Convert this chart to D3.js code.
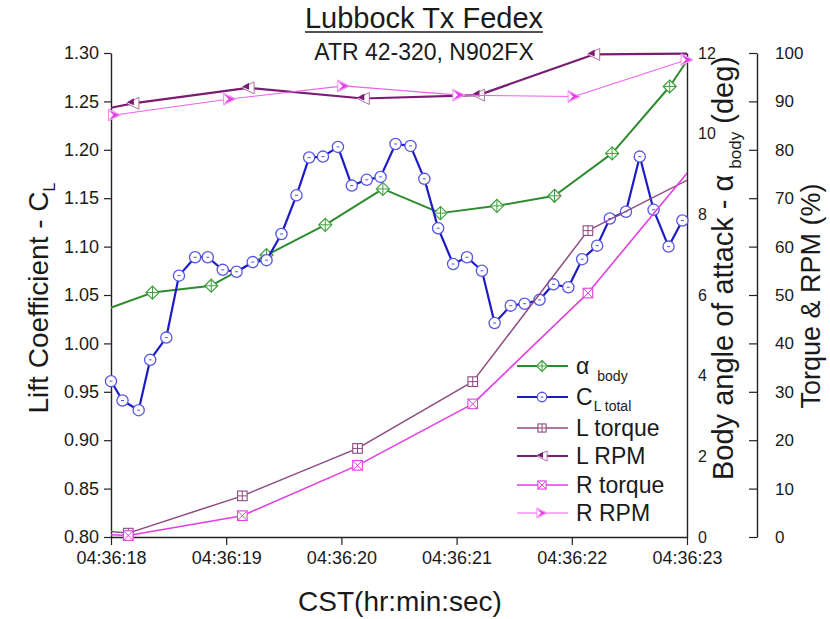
<!DOCTYPE html>
<html><head><meta charset="utf-8">
<script src="https://cdn.jsdelivr.net/npm/d3@7"></script>
<style>
body{margin:0;background:#fff}
svg{display:block}
text{font-family:"Liberation Sans",Arial,sans-serif;fill:#1a1a1a}
</style>
</head><body>
<svg id="chart" width="830" height="619"></svg>
<script>
// ---------------- data ----------------
const xTickValues = [0, 1, 2, 3, 4, 5];
const xTickLabels = ["04:36:18", "04:36:19", "04:36:20", "04:36:21", "04:36:22", "04:36:23"];
const clTicks = [0.80, 0.85, 0.90, 0.95, 1.00, 1.05, 1.10, 1.15, 1.20, 1.25, 1.30];
const alphaTicks = [0, 2, 4, 6, 8, 10, 12];
const pctTicks = [0, 10, 20, 30, 40, 50, 60, 70, 80, 90, 100];

// seconds after 04:36:18
const alphaTime = [-0.14, 0.36, 0.87, 1.35, 1.86, 2.36, 2.86, 3.35, 3.85, 4.35, 4.85, 5.35];
const alphaBody = [5.54, 6.06, 6.23, 6.99, 7.74, 8.63, 8.03, 8.21, 8.46, 9.51, 11.17, 13.3];

const clTime = [0.00, 0.10, 0.24, 0.34, 0.48, 0.59, 0.73, 0.84, 0.97, 1.09, 1.23, 1.35, 1.48, 1.61, 1.72, 1.84, 1.97, 2.09, 2.22, 2.34, 2.47,
                2.60, 2.72, 2.84, 2.97, 3.09, 3.22, 3.33, 3.47, 3.59, 3.72, 3.84, 3.97, 4.09, 4.22, 4.33, 4.47, 4.59, 4.71, 4.84, 4.96];
const clTotal = [0.961, 0.941, 0.931, 0.983, 1.006, 1.070, 1.089, 1.089, 1.076, 1.074, 1.084, 1.086, 1.113, 1.153, 1.192, 1.193, 1.203, 1.163, 1.169, 1.172, 1.206,
                 1.204, 1.170, 1.119, 1.082, 1.089, 1.075, 1.021, 1.039, 1.041, 1.045, 1.061, 1.058, 1.087, 1.101, 1.129, 1.136, 1.193, 1.138, 1.100, 1.127];

const lTorqueTime = [-0.86, 0.15, 1.14, 2.14, 3.14, 4.14, 5.14];
const lTorque = [3.0, 0.8, 8.5, 18.3, 32.1, 63.3, 75.4];

const lRpmTime = [-0.81, 0.19, 1.19, 2.19, 3.19, 4.19, 5.19];
const lRpm = [84.8, 89.6, 92.8, 90.6, 91.3, 99.7, 99.9];

const rTorqueTime = [-0.86, 0.15, 1.14, 2.14, 3.14, 4.14, 5.14];
const rTorque = [1.5, 0.3, 4.4, 14.8, 27.5, 50.4, 79.2];

const rRpmTime = [0.03, 1.03, 2.02, 3.02, 4.02, 5.00];
const rRpm = [87.2, 90.5, 93.2, 91.3, 91.0, 98.6];

// ---------------- layout ----------------
const svg = d3.select("#chart");
const P = {left: 111, right: 687, top: 53, bottom: 537};
const outerAxisX = 757;

const x = d3.scaleLinear().domain([0, 5]).range([P.left, P.right]);
const yCL = d3.scaleLinear().domain([0.80, 1.30]).range([P.bottom, P.top]);
const yA = d3.scaleLinear().domain([0, 12]).range([P.bottom, P.top]);
const yP = d3.scaleLinear().domain([0, 100]).range([P.bottom, P.top]);

svg.append("defs").append("clipPath").attr("id", "plotClip")
  .append("rect").attr("x", P.left).attr("y", P.top - 3)
  .attr("width", P.right - P.left).attr("height", P.bottom - P.top + 3);

const axisColor = "#222";
function styleAxis(g, fontSize) {
  g.selectAll(".domain").attr("stroke", axisColor).attr("stroke-width", 1.4);
  g.selectAll(".tick line").attr("stroke", axisColor).attr("stroke-width", 1.2);
  g.selectAll(".tick text").attr("font-size", fontSize).attr("fill", "#1a1a1a")
    .attr("font-family", '"Liberation Sans",Arial,sans-serif');
}

// ---- left CL axis ----
const gL = svg.append("g").attr("transform", `translate(${P.left},0)`);
gL.call(d3.axisLeft(yCL).ticks(50).tickSize(3).tickFormat(""));
gL.call(d3.axisLeft(yCL).tickValues(clTicks).tickFormat(d3.format(".2f")).tickSizeInner(7).tickSizeOuter(0).tickPadding(5));
styleAxis(gL, 18);

// ---- bottom time axis ----
const gB = svg.append("g").attr("transform", `translate(0,${P.bottom})`);
gB.call(d3.axisBottom(x).ticks(50).tickSize(4).tickFormat(""));
gB.call(d3.axisBottom(x).tickValues(xTickValues).tickFormat((d, i) => xTickLabels[i]).tickSizeInner(8).tickSizeOuter(0).tickPadding(6));
styleAxis(gB, 18);

// ---- inner right alpha axis (ticks point inward) ----
const gA = svg.append("g").attr("transform", `translate(${P.right},0)`);
gA.call(d3.axisRight(yA).ticks(12).tickSizeInner(-7).tickSizeOuter(0).tickFormat(""));
gA.call(d3.axisRight(yA).tickValues(alphaTicks).tickSize(0).tickPadding(11));
styleAxis(gA, 16);

// ---- outer right percent axis ----
const gP = svg.append("g").attr("transform", `translate(${outerAxisX},0)`);
gP.call(d3.axisRight(yP).ticks(100).tickSizeInner(-4).tickSizeOuter(0).tickFormat(""));
gP.call(d3.axisRight(yP).ticks(20).tickSizeInner(-6).tickSizeOuter(0).tickFormat(""));
gP.call(d3.axisRight(yP).tickValues(pctTicks).tickSizeInner(-8).tickSizeOuter(0).tickPadding(18));
styleAxis(gP, 17);

// ---------------- series ----------------
const series = [
  {key: "alpha", t: alphaTime, v: alphaBody, y: yA, line: "#2e8b2e", mark: "#3f9f3f", width: 2, marker: "diamondPlus"},
  {key: "cl", t: clTime, v: clTotal, y: yCL, line: "#1c1cc4", mark: "#5555e8", width: 2.2, marker: "circleDash"},
  {key: "ltq", t: lTorqueTime, v: lTorque, y: yP, line: "#8c4a82", mark: "#8c4a82", width: 1.5, marker: "squarePlus"},
  {key: "lrpm", t: lRpmTime, v: lRpm, y: yP, line: "#7a1d70", mark: "#7a1d70", width: 2.2, marker: "triLeft"},
  {key: "rtq", t: rTorqueTime, v: rTorque, y: yP, line: "#e23fe2", mark: "#e23fe2", width: 1.6, marker: "squareX"},
  {key: "rrpm", t: rRpmTime, v: rRpm, y: yP, line: "#f060f0", mark: "#e83ce8", width: 1.1, marker: "triRight"}
];

function drawMarker(g, type, cx, cy, color, s) {
  s = s || 1;
  if (type === "diamondPlus") {
    const r = 6.5 * s;
    g.append("path").attr("d", `M${cx},${cy - r}L${cx + r},${cy}L${cx},${cy + r}L${cx - r},${cy}Z`)
      .attr("fill", "#fff").attr("stroke", color).attr("stroke-width", 1.2);
    g.append("path").attr("d", `M${cx - r},${cy}H${cx + r}M${cx},${cy - r}V${cy + r}`)
      .attr("stroke", color).attr("stroke-width", 1);
  } else if (type === "circleDash") {
    const r = 5.6 * s;
    g.append("circle").attr("cx", cx).attr("cy", cy).attr("r", r)
      .attr("fill", "#fff").attr("stroke", color).attr("stroke-width", 1.3);
    g.append("path").attr("d", `M${cx - 1.5},${cy}H${cx + 1.5}`).attr("stroke", color).attr("stroke-width", 1);
  } else if (type === "squarePlus" || type === "squareX") {
    const h = 4.8 * s;
    g.append("rect").attr("x", cx - h).attr("y", cy - h).attr("width", 2 * h).attr("height", 2 * h)
      .attr("fill", "#fff").attr("stroke", color).attr("stroke-width", 1.1);
    const d = type === "squarePlus"
      ? `M${cx - h},${cy}H${cx + h}M${cx},${cy - h}V${cy + h}`
      : `M${cx - h},${cy - h}L${cx + h},${cy + h}M${cx + h},${cy - h}L${cx - h},${cy + h}`;
    g.append("path").attr("d", d).attr("stroke", color).attr("stroke-width", 1);
  } else if (type === "triLeft") {
    const w = 6 * s;
    g.append("path").attr("d", `M${cx - w},${cy}L${cx + w},${cy - w}L${cx + w},${cy + w}Z`)
      .attr("fill", "#fff").attr("stroke", "#b070a8").attr("stroke-width", 1);
    g.append("path").attr("d", `M${cx - w},${cy - 1}L${cx + 1},${cy - w + 1}L${cx + 1},${cy + 2}Z`)
      .attr("fill", color);
  } else if (type === "triRight") {
    const w = 6 * s;
    g.append("path").attr("d", `M${cx + w},${cy}L${cx - w},${cy - w}L${cx - w},${cy + w}Z`)
      .attr("fill", "#fff").attr("stroke", "#f090f0").attr("stroke-width", 1);
    g.append("path").attr("d", `M${cx - w},${cy - w + 1}L${cx + w - 1},${cy}L${cx - w},${cy + w - 1}L${cx - 1},${cy}Z`)
      .attr("fill", color);
  }
}

const plotG = svg.append("g");
series.forEach(s => {
  const pts = s.t.map((t, i) => [t, s.v[i]]);
  const g = plotG.append("g").attr("class", "series-" + s.key);
  g.append("path").datum(pts)
    .attr("clip-path", "url(#plotClip)")
    .attr("d", d3.line().x(d => x(d[0])).y(d => s.y(d[1])))
    .attr("fill", "none").attr("stroke", s.line).attr("stroke-width", s.width)
    .attr("stroke-linejoin", "round");
  const mg = g.append("g");
  pts.filter(d => d[0] >= -0.02 && d[0] <= 5.02 && d[1] <= s.y.domain()[1] + 1e-9)
     .forEach(d => drawMarker(mg, s.marker, x(d[0]), s.y(d[1]), s.mark));
});

// ---------------- legend ----------------
const legendNames = [
  {main: "α", sub: "body"},
  {main: "C", sub: "L total"},
  {main: "L torque", sub: ""},
  {main: "L RPM", sub: ""},
  {main: "R torque", sub: ""},
  {main: "R RPM", sub: ""}
];
const legendRows = [366, 397, 428, 456, 485, 513];
const legG = svg.append("g");
series.forEach((s, i) => {
  const yy = legendRows[i];
  legG.append("line").attr("x1", 517).attr("x2", 568).attr("y1", yy).attr("y2", yy)
    .attr("stroke", s.line).attr("stroke-width", s.width);
  drawMarker(legG, s.marker, 542, yy, s.mark, 0.85);
  const t = legG.append("text").attr("x", 576).attr("y", yy + 8).attr("font-size", 23);
  t.append("tspan").text(legendNames[i].main);
  if (legendNames[i].sub) {
    t.append("tspan").attr("font-size", 14).attr("dx", i === 0 ? 8 : 1).attr("dy", i === 0 ? 7 : 6)
      .text(legendNames[i].sub);
  }
});

// ---------------- titles ----------------
const title = svg.append("text").attr("x", 424).attr("y", 28).attr("text-anchor", "middle")
  .attr("font-size", 29).text("Lubbock Tx Fedex");
const tw = title.node().getComputedTextLength();
svg.append("line").attr("x1", 424 - tw / 2).attr("x2", 424 + tw / 2).attr("y1", 32).attr("y2", 32)
  .attr("stroke", "#1a1a1a").attr("stroke-width", 1.5);
svg.append("text").attr("x", 424).attr("y", 60).attr("text-anchor", "middle")
  .attr("font-size", 23).text("ATR 42-320, N902FX");

svg.append("text").attr("x", 400).attr("y", 611).attr("text-anchor", "middle")
  .attr("font-size", 28).text("CST(hr:min:sec)");

const yl = svg.append("text").attr("transform", "translate(48,298) rotate(-90)")
  .attr("text-anchor", "middle").attr("font-size", 28);
yl.append("tspan").text("Lift Coefficient - C");
yl.append("tspan").attr("font-size", 16).attr("dy", 7).text("L");

const al = svg.append("text").attr("transform", "translate(733,268) rotate(-90)")
  .attr("text-anchor", "middle").attr("font-size", 29);
al.append("tspan").text("Body angle of attack - α");
al.append("tspan").attr("font-size", 17).attr("dx", 6).attr("dy", 8).text("body");
al.append("tspan").attr("dy", -8).text(" (deg)");

svg.append("text").attr("transform", "translate(820,296) rotate(-90)")
  .attr("text-anchor", "middle").attr("font-size", 27).text("Torque & RPM (%)");
</script>
</body></html>
